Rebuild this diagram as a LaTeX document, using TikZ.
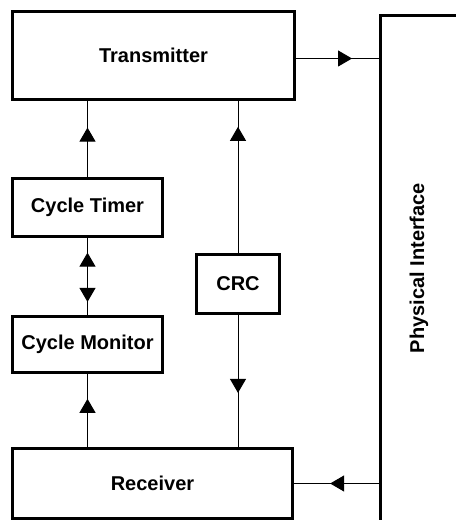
\documentclass[tikz,border=0pt]{standalone}
\usepackage{fontspec}
\setmainfont{Liberation Sans}
\usetikzlibrary{arrows.meta,decorations.markings}

\tikzset{every picture/.style={line width=0.75pt}}
\tikzset{
  wedge/.tip={Triangle[length=10.5pt,width=12pt]},
  block/.style={draw, line width=2.25pt, inner sep=0pt, font=\bfseries\fontsize{15}{18}\selectfont},
  tipat/.style={postaction={decorate,decoration={markings,mark=at position #1 with {\arrow{wedge}}}}},
  tipback/.style={postaction={decorate,decoration={markings,mark=at position #1 with {\arrowreversed{wedge}}}}}
}

\begin{document}
\begin{tikzpicture}[x=0.75pt,y=0.75pt,yscale=-1,xscale=1]
\useasboundingbox (0,0) rectangle (455,520);

% Blocks
\node [block, minimum width=211.5pt, minimum height=66pt] (tx) at (153.5,55.5) {Transmitter};
\node [block, minimum width=112.5pt, minimum height=43.5pt] (timer) at (87.5,207.5) {Cycle Timer};
\node [block, minimum width=112.5pt, minimum height=42pt] (monitor) at (87.5,344.5) {Cycle Monitor};
\node [block, minimum width=62.25pt, minimum height=44.25pt] (crc) at (238,284) {CRC};
\node [block, minimum width=210pt, minimum height=52.5pt] (rx) at (152.5,483.5) {Receiver};

% Physical interface
\coordinate (phytop) at (380,16);
\coordinate (phybot) at (380,530);
\draw [line width=2.25pt] (phybot) -- (phytop) -- (470,16);
\node [rotate=90, font=\bfseries\fontsize{15}{18}\selectfont] (phy) at (419,268) {Physical Interface};

% Connectors
\draw [tipat=0.667] ([yshift=2.25pt]tx.east) -- ([yshift=2.25pt]tx.east -| phytop);
\draw [tipat=0.58] (rx.east -| phytop) -- (rx.east);
\draw [tipat=0.65] (timer.north) -- (timer.north |- tx.south);
\draw [tipat=0.83] (crc.north) -- (crc.north |- tx.south);
\draw [tipat=0.83, tipback=0.19] (timer.south) -- (monitor.north);
\draw [tipat=0.66] (monitor.south |- rx.north) -- (monitor.south);
\draw [tipat=0.59] (crc.south) -- (crc.south |- rx.north);

\end{tikzpicture}
\end{document}
